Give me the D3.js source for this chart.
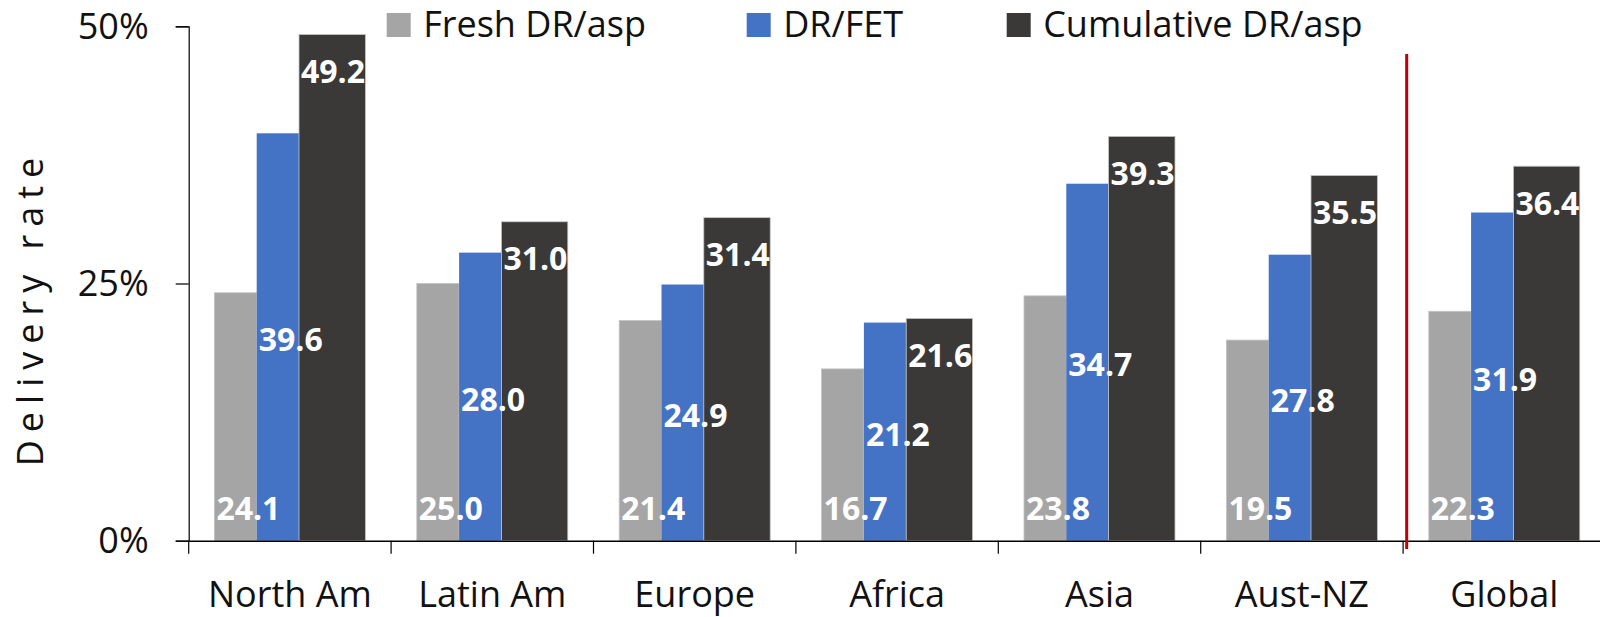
<!DOCTYPE html>
<html><head><meta charset="utf-8">
<script src="https://cdn.jsdelivr.net/npm/d3@7"></script>
<style>
body{margin:0;background:#fff;}
text{font-family:"Open Sans",sans-serif;}
</style></head>
<body><svg id="c" width="1600" height="617"></svg>
<script>
const categories = ["North Am","Latin Am","Europe","Africa","Asia","Aust-NZ","Global"];
const freshDR = [24.1,25.0,21.4,16.7,23.8,19.5,22.3];
const drFET = [39.6,28.0,24.9,21.2,34.7,27.8,31.9];
const cumulativeDR = [49.2,31.0,31.4,21.6,39.3,35.5,36.4];
const seriesNames = ["Fresh DR/asp","DR/FET","Cumulative DR/asp"];
const yTicks = [0,25,50];

const colors = ["#a5a5a5","#4472c4","#3a3938"];
const svg = d3.select("#c");
const x0 = 188.7, bandW = 202.4;
const x = d3.scaleBand().domain(categories).range([x0, x0 + bandW*categories.length]).padding(0);
const y = d3.scaleLinear().domain([0,50]).range([540.7,26.3]);

const sub = [
  {off:25.7, w:42.3},
  {off:68.0, w:42.3},
  {off:110.3, w:66.4}
];
const k = x.bandwidth()/bandW;
const series = [freshDR, drFET, cumulativeDR];

series.forEach((vals,si)=>{
  svg.append("g").selectAll("rect").data(vals).join("rect")
    .attr("x",(d,i)=>x(categories[i]) + sub[si].off*k)
    .attr("y",d=>y(d))
    .attr("width",sub[si].w*k)
    .attr("height",d=>y(0)-y(d))
    .attr("fill",colors[si])
    .attr("stroke", si===1 ? "none" : "#c4c4c4")
    .attr("stroke-width", 0.8);
});

const yAxis = d3.axisLeft(y).tickValues(yTicks).tickSize(13).tickFormat(d=>d+"%").tickPadding(27);
const gy = svg.append("g").attr("transform",`translate(${x0},0)`).call(yAxis);
gy.select(".domain").attr("stroke","#000").attr("stroke-width",1.2);
gy.selectAll(".tick line").attr("stroke","#000").attr("stroke-width",1.2);
gy.selectAll(".tick text").attr("font-size",36).attr("fill","#111").attr("dy","0.34em")
  .style("font-family","'Open Sans',sans-serif");

const xAxis = d3.axisBottom(x).tickSize(0).tickPadding(0);
const gx = svg.append("g").attr("transform",`translate(0,${y(0)})`).call(xAxis);
gx.select(".domain").attr("stroke","#000").attr("stroke-width",1.5);
gx.selectAll(".tick text").attr("font-size",36).attr("fill","#111").attr("y",66).attr("dy",0)
  .style("font-family","'Open Sans',sans-serif");
svg.append("g").selectAll("line").data(categories).join("line")
  .attr("x1",d=>x(d)).attr("x2",d=>x(d))
  .attr("y1",y(0)).attr("y2",y(0)+13)
  .attr("stroke","#000").attr("stroke-width",1.2);

const lab = svg.append("g").attr("fill","#fff").attr("font-weight","bold").attr("font-size",32);
lab.selectAll("text.f").data(freshDR).join("text")
  .attr("x",(d,i)=>x(categories[i]) + sub[0].off*k + 2)
  .attr("y",y(0)-21).text(d=>d.toFixed(1));
lab.selectAll("text.b").data(drFET).join("text")
  .attr("x",(d,i)=>x(categories[i]) + sub[1].off*k + 2)
  .attr("y",d=>(y(d)+y(0))/2 + 14).text(d=>d.toFixed(1));
lab.selectAll("text.c").data(cumulativeDR).join("text")
  .attr("x",(d,i)=>x(categories[i]) + sub[2].off*k + 2)
  .attr("y",d=>y(d)+48.5).text(d=>d.toFixed(1));

svg.append("line").attr("x1",1406.7).attr("x2",1406.7).attr("y1",54).attr("y2",549)
  .attr("stroke","#c00000").attr("stroke-width",3);

svg.append("text").attr("transform","translate(43,308) rotate(-90)")
  .attr("text-anchor","middle").attr("font-size",36).attr("fill","#111")
  .style("letter-spacing","8px").text("Delivery rate");

const legX = [386.7, 746.7, 1006.7];
const lg = svg.append("g");
seriesNames.forEach((n,i)=>{
  lg.append("rect").attr("x",legX[i]).attr("y",13).attr("width",24).attr("height",24).attr("fill",colors[i]);
  lg.append("text").attr("x",legX[i]+36.5).attr("y",37).attr("font-size",36).attr("fill","#111").text(n);
});
</script></body></html>
